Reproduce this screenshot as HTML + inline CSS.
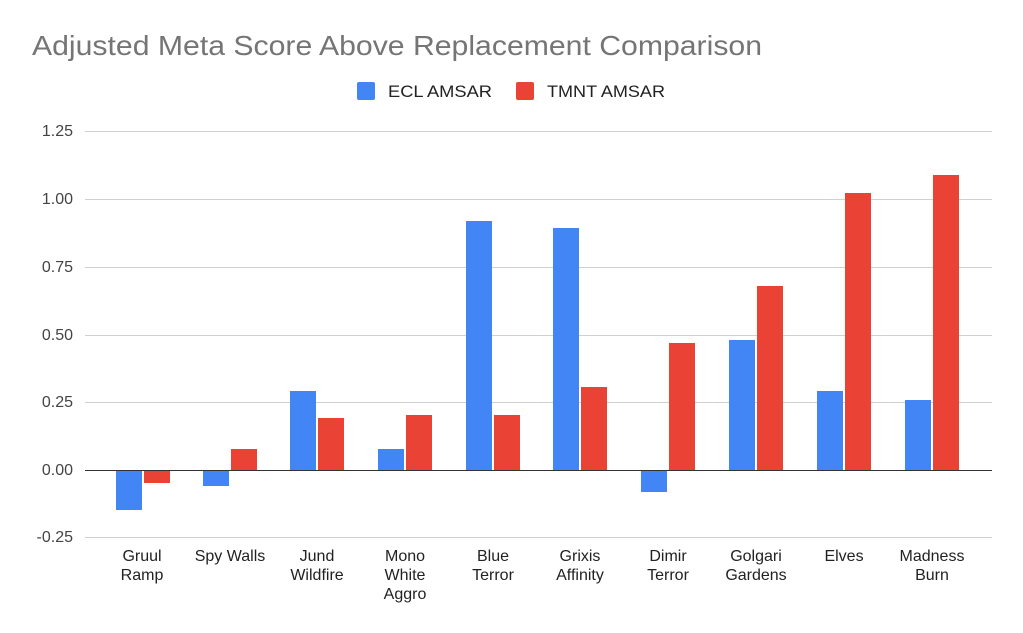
<!DOCTYPE html>
<html><head><meta charset="utf-8"><style>
body{margin:0;background:#fff}
svg{display:block;font-family:"Liberation Sans",Arial,sans-serif}
</style></head><body>
<svg width="1023" height="633" viewBox="0 0 1023 633">
<rect width="1023" height="633" fill="#fff"/>
<text x="32" y="55" font-size="28" fill="#757575" textLength="730" lengthAdjust="spacingAndGlyphs">Adjusted Meta Score Above Replacement Comparison</text>
<rect x="357" y="82" width="18" height="18" rx="2" fill="#4285f4"/>
<text x="388" y="97" font-size="17" fill="#222" textLength="104" lengthAdjust="spacingAndGlyphs">ECL AMSAR</text>
<rect x="516" y="82" width="18" height="18" rx="2" fill="#ea4335"/>
<text x="547" y="97" font-size="17" fill="#222" textLength="118" lengthAdjust="spacingAndGlyphs">TMNT AMSAR</text>
<g stroke="#d0d0d0" stroke-width="1">
<line x1="85" x2="992" y1="131.5" y2="131.5"/>
<line x1="85" x2="992" y1="199.5" y2="199.5"/>
<line x1="85" x2="992" y1="267.5" y2="267.5"/>
<line x1="85" x2="992" y1="335.5" y2="335.5"/>
<line x1="85" x2="992" y1="402.5" y2="402.5"/>
<line x1="85" x2="992" y1="537.5" y2="537.5"/>
</g>
<g font-size="16" fill="#444" text-anchor="end">
<text x="73" y="136">1.25</text>
<text x="73" y="204">1.00</text>
<text x="73" y="272">0.75</text>
<text x="73" y="340">0.50</text>
<text x="73" y="407">0.25</text>
<text x="73" y="475">0.00</text>
<text x="73" y="542">-0.25</text>
</g>
<g fill="#4285f4">
<rect x="116" y="470" width="26" height="40"/>
<rect x="203" y="470" width="26" height="16"/>
<rect x="290" y="391" width="26" height="79"/>
<rect x="378" y="449" width="26" height="21"/>
<rect x="466" y="221" width="26" height="249"/>
<rect x="553" y="228" width="26" height="242"/>
<rect x="641" y="470" width="26" height="22"/>
<rect x="729" y="340" width="26" height="130"/>
<rect x="817" y="391" width="26" height="79"/>
<rect x="905" y="400" width="26" height="70"/>
</g>
<g fill="#ea4335">
<rect x="144" y="470" width="26" height="13"/>
<rect x="231" y="449" width="26" height="21"/>
<rect x="318" y="418" width="26" height="52"/>
<rect x="406" y="415" width="26" height="55"/>
<rect x="494" y="415" width="26" height="55"/>
<rect x="581" y="387" width="26" height="83"/>
<rect x="669" y="343" width="26" height="127"/>
<rect x="757" y="286" width="26" height="184"/>
<rect x="845" y="193" width="26" height="277"/>
<rect x="933" y="175" width="26" height="295"/>
</g>
<line x1="85" x2="992" y1="470.5" y2="470.5" stroke="#333" stroke-width="1"/>
<g font-size="16" fill="#222" text-anchor="middle">
<text x="142" y="561">Gruul</text><text x="142" y="580">Ramp</text>
<text x="230" y="561">Spy Walls</text>
<text x="317" y="561">Jund</text><text x="317" y="580">Wildfire</text>
<text x="405" y="561">Mono</text><text x="405" y="580">White</text><text x="405" y="599">Aggro</text>
<text x="493" y="561">Blue</text><text x="493" y="580">Terror</text>
<text x="580" y="561">Grixis</text><text x="580" y="580">Affinity</text>
<text x="668" y="561">Dimir</text><text x="668" y="580">Terror</text>
<text x="756" y="561">Golgari</text><text x="756" y="580">Gardens</text>
<text x="844" y="561">Elves</text>
<text x="932" y="561">Madness</text><text x="932" y="580">Burn</text>
</g>
</svg>
</body></html>
